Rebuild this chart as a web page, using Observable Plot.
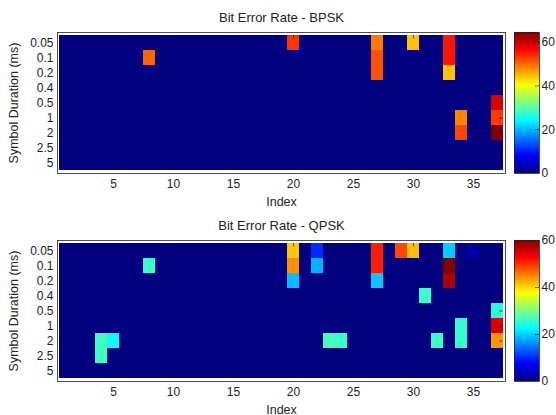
<!DOCTYPE html>
<html><head><meta charset="utf-8">
<script src="https://cdn.jsdelivr.net/npm/d3@7"></script>
<script src="https://cdn.jsdelivr.net/npm/@observablehq/plot@0.6"></script>
<style>
body{margin:0;background:#fff;}
#root{position:relative;width:556px;height:415px;overflow:hidden;font-family:"Liberation Sans",Arial,sans-serif;}
#root svg{position:absolute;overflow:visible;}
</style></head><body><div id="root"></div>
<script>
// ---- data ----
const durations = ["0.05","0.1","0.2","0.4","0.5","1","2","2.5","5"];
const indices = d3.range(1, 38);
const xTickLabels = [5,10,15,20,25,30,35];
const colorbarTicks = [0,20,40,60];
const titles = ["Bit Error Rate - BPSK", "Bit Error Rate - QPSK"];
const xLabel = "Index";
const yLabel = "Symbol Duration (ms)";
// [index, symbol duration, bit error rate] (all other cells are 0)
const bpskCells = [
  [8,"0.1",50],
  [20,"0.05",53],
  [27,"0.05",48.8],[27,"0.1",51.3],[27,"0.2",51.3],
  [30,"0.05",44],
  [33,"0.05",55],[33,"0.1",55],[33,"0.2",44],
  [34,"1",48],[34,"2",52],
  [37,"0.5",58.7],[37,"1",52.6],[37,"2",64.4]
];
const qpskCells = [
  [4,"2",26],[4,"2.5",26],
  [5,"2",23],
  [8,"0.1",26],
  [20,"0.05",40.8],[20,"0.1",44],[20,"0.2",18.7],
  [22,"0.05",9.9],[22,"0.1",18],
  [23,"2",26.5],[24,"2",26],
  [27,"0.05",50.7],[27,"0.1",50.7],[27,"0.2",19.3],
  [29,"0.05",48.4],[30,"0.05",41.3],
  [31,"0.4",26],
  [32,"2",26],
  [33,"0.05",19.5],[33,"0.1",60],[33,"0.2",57.5],
  [34,"1",25.5],[34,"2",25.5],
  [35,"0.05",2.5],
  [37,"0.5",24.9],[37,"1",54.6],[37,"2",43.7]
];

// ---- helpers ----
function jet(t){
  const c = v => Math.max(0, Math.min(1, v));
  const r = c(1.5 - Math.abs(4*t - 3)), g = c(1.5 - Math.abs(4*t - 2)), b = c(1.5 - Math.abs(4*t - 1));
  return `rgb(${Math.round(r*255)},${Math.round(g*255)},${Math.round(b*255)})`;
}
function grid(cells){
  const m = new Map(cells.map(([i,d,v]) => [i + "|" + d, v]));
  return indices.flatMap(i => durations.map(d => ({index: i, duration: d, value: m.get(i + "|" + d) ?? 0})));
}
const font = {fontFamily: '"Liberation Sans", Arial, sans-serif', fontSize: "12px", color: "#222", background: "transparent", overflow: "visible"};
const root = document.getElementById("root");

function panel(title, cells, offsetY, H, mTop){
  const data = grid(cells);
  const max = d3.max(data, d => d.value);
  const color = {type: "linear", domain: [0, max], interpolate: jet};
  const mBottom = 34, mLeft = 57, mRight = 51;
  const bw = (556 - mLeft - mRight) / indices.length;
  const bh = (H - mTop - mBottom) / durations.length;
  const tickLen = 4;
  const heat = Plot.plot({
    width: 556, height: H,
    marginLeft: mLeft, marginRight: mRight, marginTop: mTop, marginBottom: mBottom,
    style: font,
    x: {type: "band", domain: indices, padding: 0},
    y: {type: "band", domain: durations, padding: 0},
    color,
    marks: [
      Plot.cell(data, {x: "index", y: "duration", fill: "value", inset: 0, shapeRendering: "crispEdges"}),
      Plot.tickX(xTickLabels, {x: d => d, y: () => durations[0], insetBottom: bh - tickLen, stroke: "#000", strokeWidth: 0.6}),
      Plot.tickX(xTickLabels, {x: d => d, y: () => durations[durations.length-1], insetTop: bh - tickLen, stroke: "#000", strokeWidth: 0.6}),
      Plot.tickY(durations, {y: d => d, x: () => indices[0], insetRight: bw - tickLen, stroke: "#000", strokeWidth: 0.6}),
      Plot.tickY(durations, {y: d => d, x: () => indices[indices.length-1], insetLeft: bw - tickLen, stroke: "#000", strokeWidth: 0.6}),
      Plot.frame({stroke: "#222", strokeWidth: 0.8}),
      Plot.axisX(xTickLabels, {anchor: "bottom", tickSize: 0, tickPadding: 6, label: null, fontSize: 12}),
      Plot.axisY(durations, {anchor: "left", tickSize: 0, tickPadding: 4, label: null, fontSize: 12}),
      Plot.text([title], {frameAnchor: "top", dy: -15, lineAnchor: "middle", textAnchor: "middle", fontSize: 13}),
      Plot.text([xLabel], {frameAnchor: "bottom", dy: 28, lineAnchor: "middle", textAnchor: "middle", fontSize: 12.5}),
      Plot.text([yLabel], {frameAnchor: "left", dx: -44, rotate: -90, lineAnchor: "middle", textAnchor: "middle", fontSize: 12.5})
    ]
  });
  heat.style.left = "0px"; heat.style.top = offsetY + "px";
  root.appendChild(heat);

  const n = 256;
  const strips = d3.range(n).map(k => ({v0: max * k / n, v1: max * (k + 1) / n}));
  const cb = Plot.plot({
    width: 42, height: H,
    marginLeft: 0, marginRight: 17, marginTop: mTop, marginBottom: mBottom,
    style: font,
    x: {domain: [0, 1], axis: null},
    y: {domain: [0, max], axis: null},
    color,
    marks: [
      Plot.rect(strips, {x1: 0, x2: 1, y1: "v0", y2: d => d.v1 + max * 0.002, fill: "v0", shapeRendering: "crispEdges"}),
      Plot.ruleY(colorbarTicks.filter(t => t > 0 && t < max), {y: d => d, x1: 0.84, x2: 1, stroke: "#000", strokeWidth: 0.6}),
      Plot.frame({stroke: "#222", strokeWidth: 0.8}),
      Plot.axisY(colorbarTicks.filter(t => t <= max + 1e-9), {anchor: "right", tickSize: 0, tickPadding: 2, label: null, fontSize: 12})
    ]
  });
  cb.style.left = "514px"; cb.style.top = offsetY + "px";
  root.appendChild(cb);
}

panel(titles[0], bpskCells, 0, 207, 32);
panel(titles[1], qpskCells, 207, 208, 33);
</script>
</body></html>
